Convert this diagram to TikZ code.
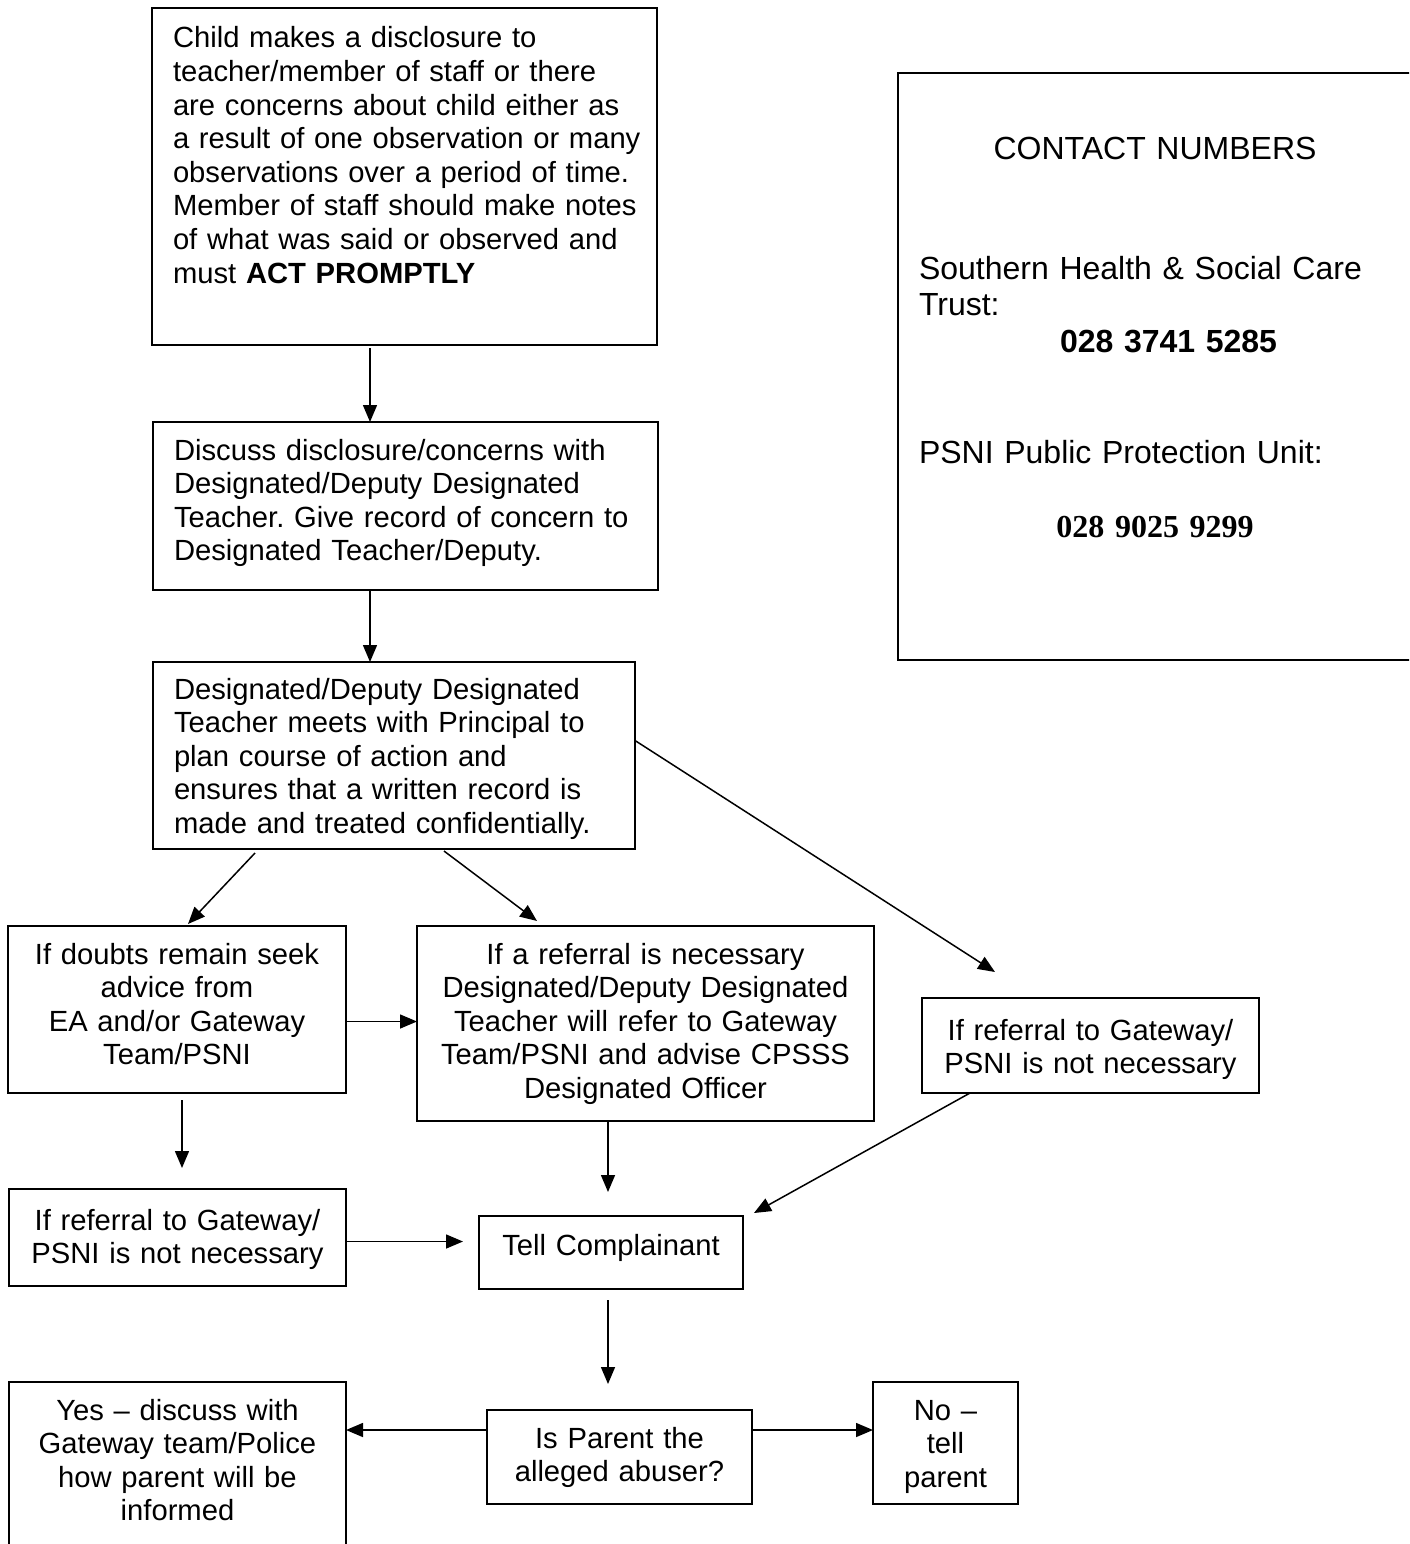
\documentclass[tikz,border=0pt]{standalone}
\usepackage{fontspec}
\setmainfont{Liberation Sans}
\newfontfamily\serifnum{Liberation Serif}
\usetikzlibrary{arrows.meta}

\newcommand{\flowsize}{\fontsize{29.2pt}{33.6pt}\selectfont\frenchspacing}
\newcommand{\contactsize}{\fontsize{32pt}{36.8pt}\selectfont}

\begin{document}
\begin{tikzpicture}[x=1pt, y=-1pt,
	box/.style={draw, line width=2pt, rectangle, anchor=north west, outer sep=0pt, inner ysep=0pt, font=\flowsize},
	leftbox/.style={box, inner xsep=21pt, align=left, execute at begin node={\rightskip=0pt plus 1fil minus 30pt}},
	midbox/.style={box, inner xsep=8pt, align=center},
	arr/.style={line width=1.5pt, -{Triangle[length=17pt, width=14pt]}}]
	\useasboundingbox (0,0) rectangle (1409,1544);
	\clip (0,0) rectangle (1409,1544);

	% main column
	\node[leftbox, text width=463pt, text height=40pt, text depth=297pt] (disclose) at (152,8) {Child makes a disclosure to\\teacher/member of staff or there\\are concerns about child either as\\a result of one observation or many\\observations over a period of time.\\Member of staff should make notes\\of what was said or observed and\\must \textbf{ACT PROMPTLY}};
	\node[leftbox, text width=463pt, text height=38pt, text depth=130pt] (discuss) at (153,422) {Discuss disclosure/concerns with\\Designated/Deputy Designated\\Teacher. Give record of concern to\\Designated Teacher/Deputy.};
	\node[leftbox, text width=440pt, text height=37pt, text depth=150pt] (plan) at (153,662) {Designated/Deputy Designated\\Teacher meets with Principal to\\plan course of action and\\ensures that a written record is\\made and treated confidentially.};

	% three outcomes
	\node[midbox, text width=322pt, text height=38pt, text depth=129pt] (doubts) at (8,926) {If doubts remain seek\\advice from\\EA and/or Gateway\\Team/PSNI};
	\node[midbox, text width=441pt, text height=38pt, text depth=157pt] (refer) at (417,926) {If a referral is necessary\\Designated/Deputy Designated\\Teacher will refer to Gateway\\Team/PSNI and advise CPSSS\\Designated Officer};
	\node[midbox, text width=321pt, text height=42pt, text depth=53pt] (notnecR) at (922,998) {If referral to Gateway/\\PSNI is not necessary};
	\node[midbox, text width=321pt, text height=41pt, text depth=56pt] (notnecL) at (9,1189) {If referral to Gateway/\\PSNI is not necessary};
	\node[midbox, text width=248pt, text height=39pt, text depth=34pt] (tell) at (479,1216) {Tell Complainant};

	% parent question
	\node[midbox, text width=249pt, text height=38pt, text depth=56pt] (parent) at (487,1410) {Is Parent the\\alleged abuser?};
	\node[midbox, text width=321pt, text height=38pt, text depth=140pt] (yes) at (9,1382) {Yes – discuss with\\Gateway team/Police\\how parent will be\\informed};
	\node[midbox, text width=129pt, text height=38pt, text depth=84pt] (no) at (873,1382) {No –\\tell\\parent};

	% contact numbers
	\node[box, font=\contactsize, inner xsep=21pt, align=left, text width=472pt, text height=86pt, text depth=501pt] (contacts) at (898,73) {\makebox[\linewidth]{CONTACT NUMBERS}\\[83.2pt]Southern Health \& Social Care\\Trust:\\\hspace*{141pt}\textbf{028 3741 5285}\\[74.2pt]PSNI Public Protection Unit:\\[36.7pt]\makebox[\linewidth]{\serifnum\bfseries 028 9025 9299}};

	\draw[arr] ([xshift=218pt,yshift=-3pt]disclose.south west) -- ([xshift=217pt]discuss.north west);
	\draw[arr] ([xshift=217pt]discuss.south west) -- ([xshift=217pt]plan.north west);
	\draw[arr] ([xshift=102pt,yshift=-4pt]plan.south west) -- ([xshift=180pt,yshift=2pt]doubts.north west);
	\draw[arr] ([xshift=291pt,yshift=-2pt]plan.south west) -- ([xshift=120pt,yshift=5pt]refer.north west);
	\draw[arr] ([yshift=15pt]plan.east) -- ([xshift=73pt,yshift=26pt]notnecR.north west);
	\coordinate (dy) at ([yshift=-12pt]doubts.east);
	\draw[arr] (dy) -- (dy -| refer.west);
	\draw[arr] ([xshift=174pt,yshift=-7pt]doubts.south west) -- ([xshift=173pt,yshift=21pt]notnecL.north west);
	\draw[arr] ([xshift=191pt]refer.south west) -- ([xshift=129pt,yshift=24pt]tell.north west);
	\draw[arr] ([xshift=48pt]notnecR.south west) -- ([xshift=11pt,yshift=3pt]tell.north east);
	\coordinate (ly) at ([yshift=-4pt]notnecL.east);
	\draw[arr, shorten >=16pt] (ly) -- (ly -| tell.west);
	\draw[arr] ([xshift=129pt,yshift=-11pt]tell.south west) -- ([xshift=121pt,yshift=26pt]parent.north west);
	\coordinate (py) at ([yshift=27pt]parent.west);
	\draw[arr] (py) -- (py -| yes.east);
	\draw[arr] (py -| parent.east) -- (py -| no.west);
\end{tikzpicture}
\end{document}
